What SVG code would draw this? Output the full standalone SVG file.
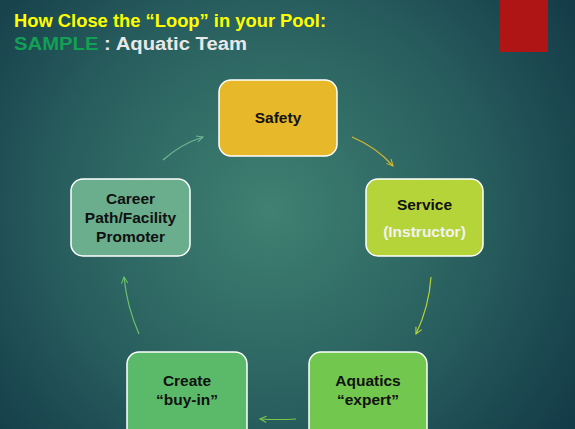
<svg xmlns="http://www.w3.org/2000/svg" width="575" height="429" viewBox="0 0 575 429">
<defs>
<radialGradient id="bg" cx="270" cy="210" r="380" gradientUnits="userSpaceOnUse">
<stop offset="0" stop-color="#3F8172"/>
<stop offset="0.55" stop-color="#285E5E"/>
<stop offset="1" stop-color="#123846"/>
</radialGradient>
<marker id="ah" viewBox="0 0 10 10" refX="9" refY="5" markerWidth="8" markerHeight="8" orient="auto" markerUnits="userSpaceOnUse">
<path d="M1,1 L9,5 L1,9" fill="none" stroke="context-stroke" stroke-width="1.3"/>
</marker>
</defs>
<style>
.box{stroke:#FFFFFF;stroke-width:1.5}
.t{font-family:"Liberation Sans",Arial,sans-serif;font-weight:bold;font-size:15.5px;fill:#111111;text-anchor:middle}
.w{fill:#F2F2F2}
.c{fill:none;stroke-width:1.2}
.h{font-family:"Liberation Sans",Arial,sans-serif;font-weight:bold;font-size:18px}
</style>
<rect x="0" y="0" width="575" height="429" fill="url(#bg)"/>
<rect x="500" y="0" width="48" height="52" fill="#B01515"/>
<text class="h" x="14" y="27" fill="#FFFF00" textLength="312" lengthAdjust="spacingAndGlyphs">How Close the “Loop” in your Pool:</text>
<text class="h" x="14" y="50" textLength="233" lengthAdjust="spacingAndGlyphs"><tspan fill="#12A055">SAMPLE</tspan><tspan fill="#E8E8E8"> : Aquatic Team</tspan></text>
<g id="connectors">
<path class="c" stroke="#D9B92C" d="M352,137 Q376,147 393,166" marker-end="url(#ah)"/>
<path class="c" stroke="#B8D43A" d="M431,277 Q429,307 416,334" marker-end="url(#ah)"/>
<path class="c" stroke="#7AC74E" d="M296,419 Q278,420 260,419" marker-end="url(#ah)"/>
<path class="c" stroke="#6CC36A" d="M139,334 Q127,307 124,277" marker-end="url(#ah)"/>
<path class="c" stroke="#6FB896" d="M163,160 Q181,144 203,137" marker-end="url(#ah)"/>
</g>
<g id="safety">
<rect class="box" x="219" y="80" width="118" height="76" rx="12" fill="#E6B82A"/>
<text class="t" x="278" y="123">Safety</text>
</g>
<g id="service">
<rect class="box" x="366" y="179" width="117" height="77" rx="12" fill="#B5D43A"/>
<text class="t" x="424.5" y="210">Service</text>
<text class="t w" x="424.5" y="237">(Instructor)</text>
</g>
<g id="aquatics">
<rect class="box" x="309" y="352" width="118" height="90" rx="12" fill="#72C74E"/>
<text class="t" x="368" y="386">Aquatics</text>
<text class="t" x="368" y="405">“expert”</text>
</g>
<g id="create">
<rect class="box" x="127" y="352" width="120" height="90" rx="12" fill="#5BBA6A"/>
<text class="t" x="187" y="386">Create</text>
<text class="t" x="187" y="405">“buy-in”</text>
</g>
<g id="career">
<rect class="box" x="71" y="179" width="119" height="77" rx="12" fill="#6AAE8E"/>
<text class="t" x="130.5" y="204">Career</text>
<text class="t" x="130.5" y="223">Path/Facility</text>
<text class="t" x="130.5" y="242">Promoter</text>
</g>
</svg>
